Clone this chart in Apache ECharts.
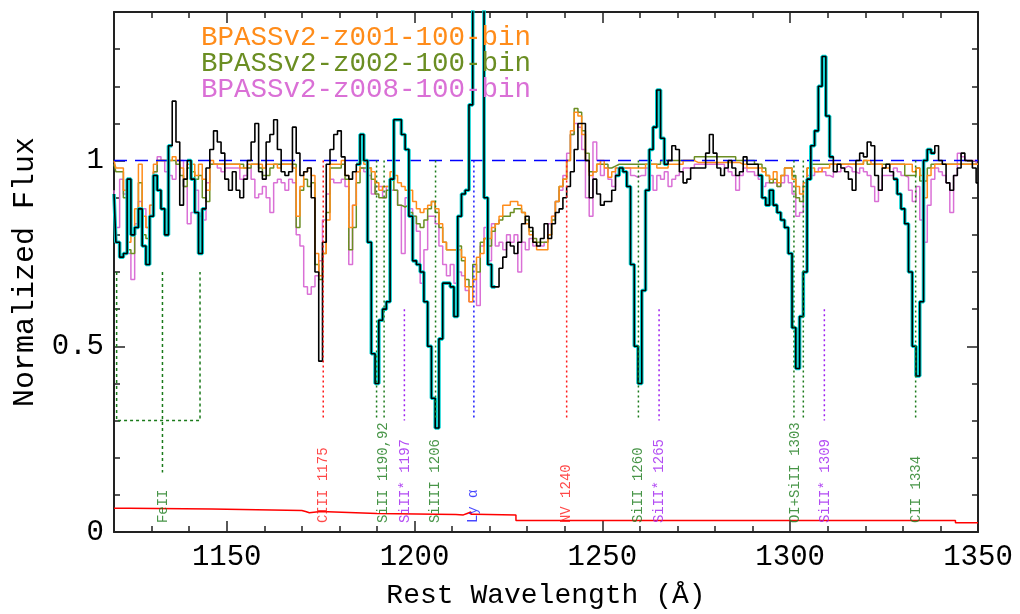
<!DOCTYPE html>
<html>
<head>
<meta charset="utf-8">
<title>Normalized spectrum vs BPASSv2 models</title>
<script src="https://cdn.jsdelivr.net/npm/echarts@6/dist/echarts.min.js"></script>
<style>
	html, body { margin: 0; padding: 0; background: #fff; }
	#chart { width: 1020px; height: 614px; }
</style>
</head>
<body>
<div id="chart"></div>
<script>
"use strict";

// spectra are sampled on a 1 A grid starting at waveStart
const waveStart = 1120;
const waveStep = 1;

// observed spectrum
const fluxObs = [
	0.91, 0.78, 0.74, 0.75, 0.95, 0.80, 0.82, 0.87, 0.77, 0.72,
	0.85, 0.96, 0.92, 0.87, 0.80, 1.04, 1.16, 1.05, 0.88, 0.95,
	1.00, 0.95, 0.86, 0.75, 0.87, 0.98, 1.03, 1.08, 1.05, 1.02,
	0.95, 0.92, 0.97, 0.92, 0.90, 0.95, 1.00, 1.05, 1.10, 0.97,
	0.95, 1.05, 1.07, 1.11, 1.03, 0.97, 0.96, 0.97, 1.09, 1.02,
	0.96, 0.97, 0.98, 0.90, 0.70, 0.46, 0.78, 0.99, 1.03, 1.07,
	1.08, 1.01, 0.96, 0.95, 0.97, 0.99, 1.07, 1.00, 0.78, 0.48,
	0.40, 0.57, 0.60, 0.62, 0.95, 1.11, 1.11, 1.07, 1.03, 0.85,
	0.73, 0.72, 0.70, 0.62, 0.50, 0.36, 0.28, 0.52, 0.67, 0.67,
	0.66, 0.58, 0.85, 0.91, 0.92, 1.15, 2.20, 2.50, 2.00, 0.90,
	0.72, 0.66, 0.66, 0.71, 0.74, 0.78, 0.77, 0.75, 0.78, 0.83,
	0.85, 0.82, 0.78, 0.77, 0.79, 0.83, 0.79, 0.83, 0.86, 0.87,
	0.90, 0.93, 0.97, 1.03, 1.10, 1.10, 1.00, 0.90, 0.95, 0.91,
	0.88, 0.89, 0.89, 0.92, 0.96, 0.98, 0.97, 0.93, 0.72, 0.50,
	0.40, 0.65, 0.92, 1.03, 1.09, 1.19, 1.06, 0.99, 1.00, 1.04,
	1.03, 0.97, 0.94, 0.95, 0.98, 0.98, 0.98, 0.98, 1.02, 1.07,
	1.02, 0.98, 0.96, 0.98, 1.00, 0.98, 0.96, 0.97, 1.01, 0.99,
	0.99, 0.99, 0.96, 0.90, 0.88, 0.92, 0.88, 0.86, 0.84, 0.82,
	0.75, 0.55, 0.44, 0.58, 0.70, 0.95, 1.04, 1.08, 1.20, 1.28,
	1.12, 1.01, 0.97, 0.99, 0.98, 0.97, 0.95, 0.92, 1.00, 1.02,
	1.01, 1.05, 1.04, 0.96, 0.92, 0.98, 0.99, 0.97, 0.95, 0.91,
	0.87, 0.83, 0.70, 0.50, 0.42, 0.62, 1.00, 1.03, 1.02, 1.04,
	1.00, 0.99, 0.94, 0.92, 0.96, 0.98, 1.02, 1.00, 1.00, 0.98,
	0.94
];

// wavelength ranges where the observed spectrum is highlighted in cyan
const maskRanges = [[1120, 1135], [1140, 1144], [1185, 1221], [1254, 1267], [1292, 1311], [1328, 1338]];

const fluxZ001 = [
	1.00, 0.98, 0.98, 0.92, 0.78, 0.80, 0.87, 0.99, 0.85, 0.82,
	0.88, 0.99, 1.00, 1.00, 1.00, 1.00, 1.01, 1.00, 0.98, 0.95,
	0.99, 0.99, 0.96, 0.99, 0.95, 0.92, 1.00, 0.99, 0.99, 0.99,
	0.99, 0.99, 0.99, 0.99, 0.98, 0.98, 0.99, 0.99, 0.99, 0.99,
	0.98, 0.99, 0.99, 0.99, 0.98, 0.99, 0.99, 0.99, 0.98, 0.85,
	0.93, 0.97, 0.98, 0.96, 0.75, 0.69, 0.75, 0.84, 0.99, 0.99,
	0.99, 1.00, 0.96, 0.82, 0.88, 0.97, 1.00, 0.99, 0.98, 0.97,
	0.94, 0.92, 0.93, 0.93, 0.97, 0.96, 0.94, 0.93, 0.92, 0.92,
	0.89, 0.87, 0.86, 0.87, 0.88, 0.89, 0.87, 0.83, 0.78, 0.76,
	0.76, 0.76, 0.76, 0.74, 0.66, 0.62, 0.68, 0.74, 0.75, 0.79,
	0.79, 0.82, 0.83, 0.85, 0.88, 0.88, 0.89, 0.89, 0.88, 0.86,
	0.83, 0.80, 0.78, 0.76, 0.76, 0.76, 0.80, 0.85, 0.89, 0.93,
	0.95, 1.00, 1.08, 1.13, 1.12, 1.07, 1.00, 0.96, 0.97, 0.99,
	1.00, 0.98, 0.955, 0.97, 0.98, 0.98, 0.98, 0.98, 0.98, 0.98,
	0.98, 0.98, 0.99, 0.99, 0.99, 0.98, 0.98, 0.98, 0.99, 0.99,
	0.99, 0.99, 1.00, 1.00, 1.00, 0.995, 0.995, 0.995, 0.995, 0.995,
	0.995, 0.995, 0.995, 0.995, 0.995, 0.995, 0.995, 0.99, 0.99, 0.98,
	0.98, 0.98, 0.98, 0.97, 0.96, 0.95, 0.97, 0.94, 0.96, 0.98,
	0.98, 0.95, 0.93, 0.91, 0.94, 0.98, 0.98, 0.97, 0.97, 0.98,
	0.98, 0.99, 0.99, 0.99, 0.99, 0.99, 0.99, 0.99, 0.99, 0.99,
	1.00, 1.00, 0.99, 0.99, 0.99, 0.98, 0.98, 0.99, 0.99, 0.99,
	0.99, 0.99, 0.99, 0.97, 0.98, 0.96, 0.90, 0.96, 0.98, 0.99,
	0.99, 0.99, 0.99, 0.99, 0.99, 0.99, 0.99, 0.99, 0.99, 0.99,
	0.99
];

const fluxZ002 = [
	0.99, 0.97, 0.97, 0.90, 0.76, 0.75, 0.82, 0.94, 0.80, 0.79,
	0.85, 0.97, 1.00, 1.00, 1.00, 1.00, 1.00, 0.99, 0.96, 0.93,
	0.98, 0.97, 0.95, 0.96, 0.90, 0.89, 0.99, 0.99, 0.99, 0.99,
	0.99, 0.99, 0.99, 0.99, 0.99, 0.98, 0.98, 0.99, 0.99, 0.98,
	0.96, 0.96, 0.98, 0.99, 0.99, 0.99, 0.99, 0.99, 0.99, 0.82,
	0.92, 0.95, 0.93, 0.94, 0.72, 0.68, 0.75, 0.86, 0.98, 0.98,
	0.98, 0.99, 0.95, 0.76, 0.82, 0.94, 0.98, 0.98, 0.98, 0.95,
	0.91, 0.90, 0.90, 0.92, 0.95, 0.92, 0.88, 0.875, 0.88, 0.86,
	0.85, 0.83, 0.82, 0.84, 0.87, 0.89, 0.86, 0.82, 0.78, 0.76,
	0.76, 0.76, 0.77, 0.73, 0.68, 0.66, 0.72, 0.70, 0.78, 0.79,
	0.77, 0.81, 0.83, 0.84, 0.85, 0.85, 0.86, 0.87, 0.87, 0.86,
	0.84, 0.81, 0.79, 0.78, 0.78, 0.78, 0.80, 0.84, 0.89, 0.93,
	0.95, 1.00, 1.07, 1.14, 1.13, 1.08, 1.02, 0.97, 0.97, 0.99,
	0.99, 0.99, 0.98, 0.985, 0.99, 0.99, 0.99, 0.99, 0.99, 0.99,
	0.99, 0.99, 0.99, 0.99, 0.99, 0.99, 1.00, 1.00, 1.00, 1.00,
	1.00, 1.00, 1.00, 1.00, 1.00, 1.01, 1.01, 1.01, 1.01, 1.01,
	1.01, 1.01, 1.01, 1.01, 1.01, 1.01, 1.00, 1.00, 1.00, 1.00,
	1.00, 0.99, 0.99, 0.98, 0.96, 0.94, 0.95, 0.93, 0.96, 0.98,
	0.98, 0.96, 0.90, 0.89, 0.93, 0.98, 0.99, 0.99, 0.99, 0.99,
	0.99, 0.99, 0.99, 0.99, 0.99, 0.99, 0.99, 0.99, 0.99, 0.99,
	1.00, 0.99, 0.99, 0.99, 0.99, 0.99, 0.99, 0.99, 0.99, 0.99,
	0.99, 0.96, 0.96, 0.96, 0.98, 0.945, 0.945, 0.98, 0.99, 0.99,
	0.99, 0.99, 0.99, 0.99, 0.99, 0.99, 0.99, 0.99, 0.99, 0.99,
	0.99
];

const fluxZ008 = [
	0.92, 0.82, 0.95, 0.91, 0.75, 0.68, 0.83, 0.89, 0.87, 0.82,
	0.88, 0.97, 1.01, 1.00, 0.97, 0.96, 0.95, 1.00, 1.00, 0.93,
	0.83, 0.86, 0.92, 0.85, 0.84, 0.94, 0.99, 0.99, 0.98, 0.97,
	0.98, 0.98, 0.98, 0.98, 0.95, 0.96, 0.98, 0.95, 0.90, 0.91,
	0.93, 0.90, 0.86, 0.94, 0.95, 0.94, 0.92, 0.95, 0.94, 0.80,
	0.77, 0.66, 0.64, 0.66, 0.69, 0.73, 0.84, 0.91, 0.95, 0.94,
	0.94, 0.95, 0.93, 0.72, 0.88, 0.97, 0.98, 0.97, 0.96, 0.91,
	0.93, 0.93, 0.90, 0.93, 0.92, 0.92, 0.88, 0.75, 0.90, 0.87,
	0.85, 0.81, 0.67, 0.76, 0.85, 0.85, 0.83, 0.77, 0.72, 0.69,
	0.72, 0.67, 0.70, 0.69, 0.65, 0.62, 0.68, 0.61, 0.77, 0.82,
	0.73, 0.83, 0.77, 0.78, 0.76, 0.80, 0.78, 0.80, 0.70, 0.78,
	0.76, 0.79, 0.77, 0.77, 0.77, 0.78, 0.83, 0.85, 0.89, 0.92,
	0.96, 1.02, 1.07, 1.10, 1.09, 1.03, 0.90, 0.85, 1.05, 1.00,
	0.96, 0.98, 0.95, 0.93, 0.98, 0.98, 0.98, 0.98, 0.96, 0.955,
	0.96, 0.96, 0.98, 0.96, 0.92, 0.96, 0.95, 0.97, 0.93, 0.95,
	0.96, 0.97, 0.98, 0.98, 0.98, 0.99, 0.99, 0.99, 0.99, 0.99,
	0.99, 0.99, 0.99, 0.98, 0.97, 0.96, 0.92, 0.96, 0.98, 0.97,
	0.97, 0.96, 0.95, 0.93, 0.94, 0.94, 0.94, 0.93, 0.94, 0.96,
	0.94, 0.91, 0.85, 0.86, 0.94, 0.96, 0.96, 0.97, 0.98, 0.97,
	0.96, 0.955, 0.97, 0.97, 0.98, 0.985, 0.98, 0.97, 0.965, 0.98,
	0.97, 0.96, 0.93, 0.89, 0.92, 0.96, 0.96, 0.96, 0.98, 0.97,
	0.96, 0.955, 0.92, 0.89, 0.93, 0.84, 0.78, 0.88, 0.95, 0.98,
	0.97, 0.96, 0.94, 0.86, 0.96, 1.02, 1.01, 1.00, 1.00, 1.00,
	0.99
];

// error spectrum, each value holds until the next wavelength
const errWave = [1120, 1124, 1146, 1170, 1171, 1172, 1175, 1190, 1211, 1213, 1214, 1215, 1216, 1227, 1344, 1350];
const errFlux = [0.064, 0.062, 0.058, 0.055, 0.052, 0.055, 0.050, 0.047, 0.046, 0.050, 0.054, 0.048, 0.046, 0.031, 0.025, 0.025];

// absorption/emission line markers (dotted)
const markWave = [1175.7, 1189.9, 1191.9, 1197.3, 1205.6, 1215.8, 1240.5, 1259.6, 1265.1, 1301.0, 1303.5, 1309.1, 1333.4];
const markTop = [1.0, 1.0, 1.0, 0.6, 1.0, 1.0, 1.0, 1.0, 0.6, 1.0, 1.0, 0.6, 1.0];
const markBottom = 0.3;
const markKind = ["red", "green", "green", "purple", "green", "blue", "red", "green", "purple", "green", "green", "purple", "green"];

// FeII blend bracket
const feWave = [1120.7, 1132.9, 1142.9];
const feTop = 0.7;
const feBottom = 0.3;
const feStem = 0.16;

// rotated line labels
const labelWave = [1133.1, 1175.7, 1191.7, 1197.5, 1205.4, 1215.6, 1240.5, 1259.6, 1265.1, 1301.3, 1309.3, 1333.6];
const labelText = ["FeII", "CIII 1175", "SiII 1190,92", "SiII* 1197", "SiIII 1206", "Ly α", "NV 1240", "SiII 1260", "SiII* 1265", "OI+SiII 1303", "SiII* 1309", "CII 1334"];
const labelKind = ["green", "red", "green", "purple", "green", "blue", "red", "green", "purple", "green", "purple", "green"];
const labelBase = 0.024;

const modelNames = ["BPASSv2-z001-100-bin", "BPASSv2-z002-100-bin", "BPASSv2-z008-100-bin"];

const xMajor = [1150, 1200, 1250, 1300, 1350];
const xMinor = [1130, 1140, 1160, 1170, 1180, 1190, 1210, 1220, 1230, 1240, 1260, 1270, 1280, 1290, 1310, 1320, 1330, 1340];
const yMajor = [0, 0.5, 1];
const yMinor = [0.1, 0.2, 0.3, 0.4, 0.6, 0.7, 0.8, 0.9, 1.1, 1.2, 1.3];

const kindColor = {
	red: "#ff1a1a",
	green: "#1a7a1a",
	purple: "#a020f0",
	blue: "#1a1aff"
};
const modelColor = ["#ff8c1a", "#6b8e23", "#da70d6"];
const FONT = "Liberation Mono";
const frameColor = "#222";

const waveAt = (i) => waveStart + i * waveStep;
const toPairs = (arr) => arr.map((v, i) => [waveAt(i), v]);
const inMask = (w) => maskRanges.some((r) => w >= r[0] && w <= r[1]);

const chart = echarts.init(document.getElementById("chart"), null, { renderer: "canvas" });

const xAxisBase = (position, ticks, len, showLine) => ({
	type: "value",
	min: 1120,
	max: 1350,
	position: position,
	axisLine: { show: showLine, onZero: false, lineStyle: { color: frameColor, width: 2 } },
	axisTick: { show: true, inside: true, length: len, customValues: ticks, lineStyle: { color: frameColor, width: 1.5 } },
	axisLabel: { show: false },
	splitLine: { show: false }
});

const yAxisBase = (position, ticks, len, showLine) => ({
	type: "value",
	min: 0,
	max: 1.4,
	position: position,
	axisLine: { show: showLine, onZero: false, lineStyle: { color: frameColor, width: 2 } },
	axisTick: { show: true, inside: true, length: len, customValues: ticks, lineStyle: { color: frameColor, width: 1.5 } },
	axisLabel: { show: false },
	splitLine: { show: false }
});

const xAxes = [
	xAxisBase("bottom", xMajor, 11, true),
	xAxisBase("bottom", xMinor, 6, false),
	xAxisBase("top", xMajor, 11, true),
	xAxisBase("top", xMinor, 6, false)
];
xAxes[0].axisLabel = {
	show: true, customValues: xMajor, margin: 11,
	formatter: (v) => String(v),
	color: "#000", fontFamily: FONT, fontSize: 29
};
xAxes[0].name = "Rest Wavelength (Å)";
xAxes[0].nameLocation = "middle";
xAxes[0].nameGap = 50;
xAxes[0].nameTextStyle = { color: "#000", fontFamily: FONT, fontSize: 28 };

const yAxes = [
	yAxisBase("left", yMajor, 11, true),
	yAxisBase("left", yMinor, 6, false),
	yAxisBase("right", yMajor, 11, true),
	yAxisBase("right", yMinor, 6, false)
];
yAxes[0].axisLabel = {
	show: true, customValues: yMajor, margin: 10,
	formatter: (v) => String(v),
	color: "#000", fontFamily: FONT, fontSize: 29
};
yAxes[0].name = "Normalized Flux";
yAxes[0].nameLocation = "middle";
yAxes[0].nameGap = 74;
yAxes[0].nameTextStyle = { color: "#000", fontFamily: FONT, fontSize: 30 };

const stepLine = (data, color, width, z) => ({
	type: "line",
	data: data,
	step: "middle",
	symbol: "none",
	silent: true,
	z: z,
	lineStyle: { color: color, width: width }
});

const series = [];

// error spectrum
series.push({
	type: "line",
	data: errWave.map((w, i) => [w, errFlux[i]]),
	step: "end",
	symbol: "none",
	silent: true,
	z: 2,
	lineStyle: { color: "#ff0000", width: 1.5 }
});

// models, back to front
series.push(stepLine(toPairs(fluxZ008), modelColor[2], 1.5, 3));
series.push(stepLine(toPairs(fluxZ002), modelColor[1], 1.5, 4));
series.push(stepLine(toPairs(fluxZ001), modelColor[0], 1.5, 5));

// continuum level
series.push({
	type: "line",
	data: [[1120, 1], [1350, 1]],
	symbol: "none",
	silent: true,
	z: 6,
	lineStyle: { color: "#0000ff", width: 1.5, type: [13, 8] }
});

// observed: cyan highlight below, black on top
series.push(stepLine(fluxObs.map((v, i) => [waveAt(i), inMask(waveAt(i)) ? v : "-"]), "#00d2d2", 3.6, 7));
series.push(stepLine(toPairs(fluxObs), "#000", 1.6, 8));

// line markers
markWave.forEach((w, i) => {
	series.push({
		type: "line",
		data: [[w, markTop[i]], [w, markBottom]],
		symbol: "none",
		silent: true,
		z: 9,
		lineStyle: { color: kindColor[markKind[i]], width: 1.5, type: [2, 3] }
	});
});

// FeII bracket
series.push({
	type: "line",
	data: [[feWave[0], feTop], [feWave[0], feBottom], [feWave[2], feBottom], [feWave[2], feTop]],
	symbol: "none",
	silent: true,
	z: 9,
	lineStyle: { color: kindColor.green, width: 1.5, type: [3, 3] }
});
series.push({
	type: "line",
	data: [[feWave[1], feTop], [feWave[1], feStem]],
	symbol: "none",
	silent: true,
	z: 9,
	lineStyle: { color: kindColor.green, width: 1.5, type: [3, 3] }
});

// rotated line labels
series.push({
	type: "scatter",
	symbolSize: 1,
	silent: true,
	z: 10,
	itemStyle: { color: "rgba(0,0,0,0)" },
	data: labelWave.map((w, i) => ({
		value: [w, labelBase],
		label: {
			show: true,
			position: "inside",
			rotate: 90,
			align: "left",
			verticalAlign: "middle",
			formatter: labelText[i],
			color: kindColor[labelKind[i]],
			fontFamily: FONT,
			fontSize: 14
		}
	}))
});

const legendText = modelNames.map((name, i) => ({
	type: "text",
	left: 201,
	top: 24 + i * 26,
	z: 20,
	style: {
		text: name,
		fill: modelColor[i],
		font: "27.5px '" + FONT + "'"
	}
}));

chart.setOption({
	animation: false,
	backgroundColor: "#fff",
	grid: { left: 114, right: 42, top: 12, bottom: 82, containLabel: false, outerBoundsMode: "none" },
	xAxis: xAxes,
	yAxis: yAxes,
	series: series,
	graphic: legendText
});
</script>
</body>
</html>
